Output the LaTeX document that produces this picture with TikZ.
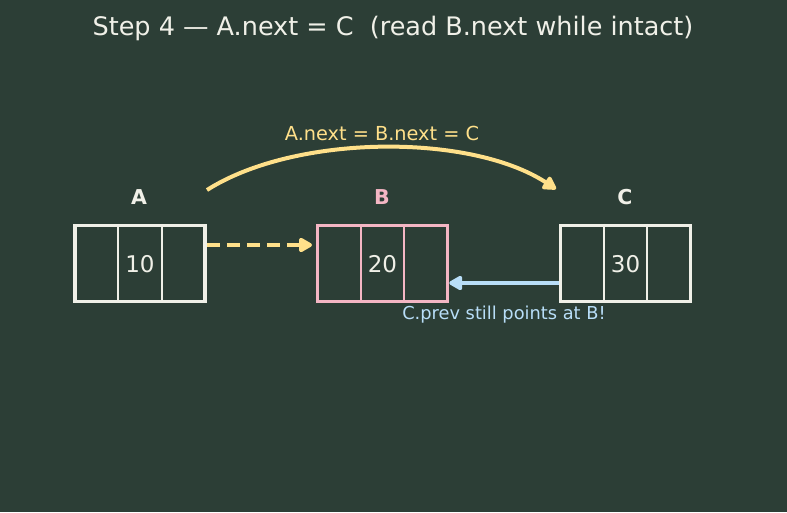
\documentclass[tikz,border=0pt]{standalone}
\usepackage{fontspec}
\setmainfont{DejaVu Sans}
\usetikzlibrary{arrows.meta}
\definecolor{bg}{RGB}{44,62,54}
\definecolor{boxw}{RGB}{240,240,232}
\definecolor{pinkb}{RGB}{244,182,196}
\definecolor{yel}{RGB}{255,224,138}
\definecolor{lblue}{RGB}{184,222,248}
\tikzset{
  x=1pt,y=-1pt,
  cellbox/.style={draw=boxw,line width=3.5pt,minimum width=130pt,minimum height=76pt,inner sep=0pt},
  valtxt/.style={text=boxw,font=\fontsize{23}{26}\selectfont},
  namelbl/.style={font=\bfseries\fontsize{20.5}{24}\selectfont},
  arr/.style={line width=4pt,-{Triangle[length=15pt,width=16pt,round]}},
  lbl/.style={font=\fontsize{17.8}{20}\selectfont}
}
\begin{document}
\begin{tikzpicture}
\fill[bg] (0,0) rectangle (787,512);
\useasboundingbox (0,0) rectangle (787,512);
\node[text=boxw,font=\fontsize{25.5}{30}\selectfont] (title) at (393,28.5) {Step 4 — A.next = C\ \ (read B.next while intact)};
% boxes
\node[cellbox] (A) at (140,263.5) {};
\node[cellbox,draw=pinkb] (B) at (382.5,263.5) {};
\node[cellbox] (C) at (625.5,263.5) {};
\foreach \n/\c in {A/boxw,B/pinkb,C/boxw}{
  \draw[draw=\c,line width=2.2pt] ([xshift=45pt]\n.north west) -- ([xshift=45pt]\n.south west);
  \draw[draw=\c,line width=2.2pt] ([xshift=-45pt]\n.north east) -- ([xshift=-45pt]\n.south east);
}
\node[valtxt] (vA) at ([yshift=-1pt]A.center) {10};
\node[valtxt] (vB) at ([yshift=-1pt]B.center) {20};
\node[valtxt] (vC) at ([yshift=-1pt]C.center) {30};
\node[namelbl,text=boxw] (lA) at (139,197) {A};
\node[namelbl,text=pinkb] (lB) at (382,197) {B};
\node[namelbl,text=boxw] (lC) at (625,197) {C};
% arrows
\coordinate (cs) at (207,190);
\coordinate (ce) at (556,189);
\draw[arr,draw=yel] (cs) .. controls (295,134) and (470,133) .. (ce);
\node[lbl,text=yel,font=\fontsize{19.3}{22}\selectfont] (cl) at (382,133.5) {A.next = B.next = C};
\draw[arr,draw=yel,dash pattern=on 13pt off 7pt] (A.east |- 0,245) -- (312,245);
\draw[arr,draw=lblue] (C.west |- 0,283) -- (B.east |- 0,283);
\node[lbl,text=lblue] (bl) at (504,315) {C.prev still points at B!};
\end{tikzpicture}
\end{document}
